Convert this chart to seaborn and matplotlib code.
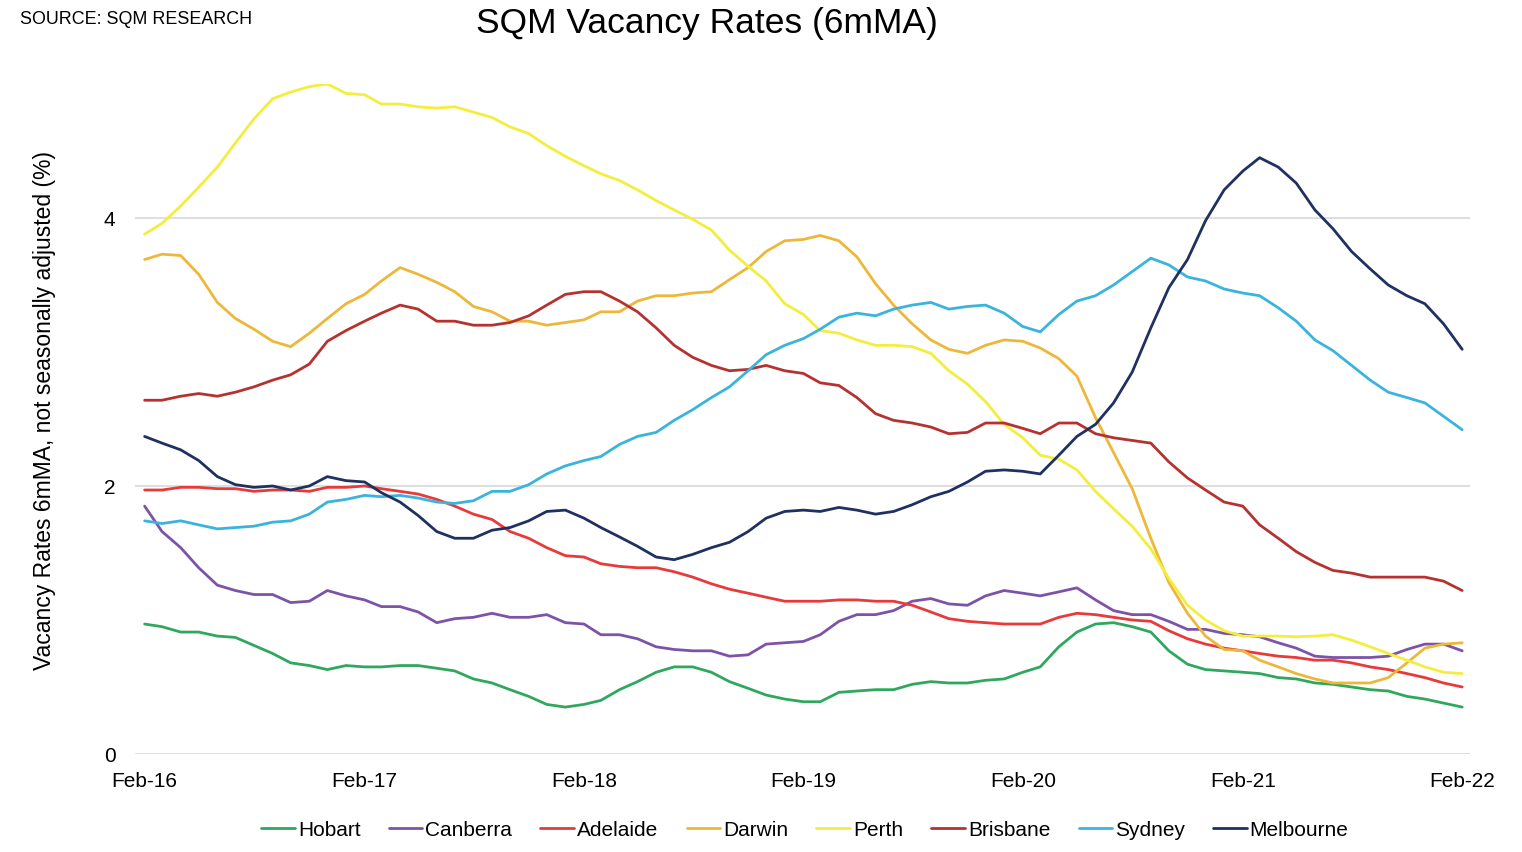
import pandas as pd
import matplotlib
matplotlib.use("Agg")
import matplotlib.pyplot as plt
import matplotlib.dates as mdates
import seaborn as sns

sns.set_style("white")
plt.rcParams["font.family"] = ["Liberation Sans", "DejaVu Sans"]
plt.rcParams["text.color"] = "black"
plt.rcParams["xtick.color"] = "black"
plt.rcParams["ytick.color"] = "black"

# ----- data (monthly, Feb-16 .. Feb-22) -----
months = pd.date_range("2016-02-01", periods=73, freq="MS")

hobart = [0.97, 0.95, 0.91, 0.91, 0.88, 0.87, 0.81, 0.75, 0.68, 0.66, 0.63, 0.66,
          0.65, 0.65, 0.66, 0.66, 0.64, 0.62, 0.56, 0.53, 0.48, 0.43, 0.37, 0.35,
          0.37, 0.40, 0.48, 0.54, 0.61, 0.65, 0.65, 0.61, 0.54, 0.49, 0.44, 0.41,
          0.39, 0.39, 0.46, 0.47, 0.48, 0.48, 0.52, 0.54, 0.53, 0.53, 0.55, 0.56,
          0.61, 0.65, 0.80, 0.91, 0.97, 0.98, 0.95, 0.91, 0.77, 0.67, 0.63, 0.62,
          0.61, 0.60, 0.57, 0.56, 0.53, 0.52, 0.50, 0.48, 0.47, 0.43, 0.41, 0.38, 0.35]

canberra = [1.85, 1.66, 1.54, 1.39, 1.26, 1.22, 1.19, 1.19, 1.13, 1.14, 1.22, 1.18,
            1.15, 1.10, 1.10, 1.06, 0.98, 1.01, 1.02, 1.05, 1.02, 1.02, 1.04, 0.98,
            0.97, 0.89, 0.89, 0.86, 0.80, 0.78, 0.77, 0.77, 0.73, 0.74, 0.82, 0.83,
            0.84, 0.89, 0.99, 1.04, 1.04, 1.07, 1.14, 1.16, 1.12, 1.11, 1.18, 1.22,
            1.20, 1.18, 1.21, 1.24, 1.15, 1.07, 1.04, 1.04, 0.99, 0.93, 0.93, 0.90,
            0.89, 0.875, 0.83, 0.79, 0.73, 0.72, 0.72, 0.72, 0.73, 0.78, 0.82, 0.82, 0.77]

adelaide = [1.97, 1.97, 1.99, 1.99, 1.98, 1.98, 1.96, 1.97, 1.97, 1.96, 1.99, 1.99,
            2.00, 1.98, 1.96, 1.94, 1.90, 1.85, 1.79, 1.75, 1.66, 1.61, 1.54, 1.48,
            1.47, 1.42, 1.40, 1.39, 1.39, 1.36, 1.32, 1.27, 1.23, 1.20, 1.17, 1.14,
            1.14, 1.14, 1.15, 1.15, 1.14, 1.14, 1.11, 1.06, 1.01, 0.99, 0.98, 0.97,
            0.97, 0.97, 1.02, 1.05, 1.04, 1.02, 1.00, 0.99, 0.92, 0.86, 0.82, 0.79,
            0.77, 0.75, 0.73, 0.72, 0.70, 0.70, 0.68, 0.65, 0.63, 0.60, 0.57, 0.53, 0.50]

darwin = [3.69, 3.73, 3.72, 3.58, 3.37, 3.25, 3.17, 3.08, 3.04, 3.14, 3.25, 3.36,
          3.43, 3.53, 3.63, 3.58, 3.52, 3.45, 3.34, 3.30, 3.23, 3.23, 3.20, 3.22,
          3.24, 3.30, 3.30, 3.38, 3.42, 3.42, 3.44, 3.45, 3.54, 3.63, 3.75, 3.83,
          3.84, 3.87, 3.83, 3.71, 3.51, 3.35, 3.21, 3.09, 3.02, 2.99, 3.05, 3.09,
          3.08, 3.03, 2.95, 2.82, 2.51, 2.25, 1.98, 1.61, 1.28, 1.05, 0.88, 0.78,
          0.77, 0.70, 0.65, 0.60, 0.56, 0.53, 0.53, 0.53, 0.57, 0.68, 0.79, 0.82, 0.83]

perth = [3.88, 3.96, 4.09, 4.23, 4.38, 4.56, 4.74, 4.89, 4.94, 4.98, 5.00, 4.93,
         4.92, 4.85, 4.85, 4.83, 4.82, 4.83, 4.79, 4.75, 4.68, 4.63, 4.54, 4.46,
         4.39, 4.33, 4.28, 4.21, 4.13, 4.06, 3.99, 3.91, 3.76, 3.64, 3.53, 3.36,
         3.28, 3.16, 3.14, 3.09, 3.05, 3.05, 3.04, 2.99, 2.86, 2.76, 2.63, 2.46,
         2.36, 2.23, 2.20, 2.12, 1.96, 1.83, 1.70, 1.53, 1.31, 1.11, 1.00, 0.92,
         0.88, 0.88, 0.88, 0.875, 0.88, 0.89, 0.85, 0.80, 0.75, 0.70, 0.65, 0.61, 0.60]

brisbane = [2.64, 2.64, 2.67, 2.69, 2.67, 2.70, 2.74, 2.79, 2.83, 2.91, 3.08, 3.16,
            3.23, 3.29, 3.35, 3.32, 3.23, 3.23, 3.20, 3.20, 3.22, 3.27, 3.35, 3.43,
            3.45, 3.45, 3.38, 3.30, 3.18, 3.05, 2.96, 2.90, 2.86, 2.87, 2.90, 2.86,
            2.84, 2.77, 2.75, 2.66, 2.54, 2.49, 2.47, 2.44, 2.39, 2.40, 2.47, 2.47,
            2.43, 2.39, 2.47, 2.47, 2.39, 2.36, 2.34, 2.32, 2.18, 2.06, 1.97, 1.88,
            1.85, 1.71, 1.61, 1.51, 1.43, 1.37, 1.35, 1.32, 1.32, 1.32, 1.32, 1.29, 1.22]

sydney = [1.74, 1.72, 1.74, 1.71, 1.68, 1.69, 1.70, 1.73, 1.74, 1.79, 1.88, 1.90,
          1.93, 1.92, 1.93, 1.91, 1.88, 1.87, 1.89, 1.96, 1.96, 2.01, 2.09, 2.15,
          2.19, 2.22, 2.31, 2.37, 2.40, 2.49, 2.57, 2.66, 2.74, 2.86, 2.98, 3.05,
          3.10, 3.17, 3.26, 3.29, 3.27, 3.32, 3.35, 3.37, 3.32, 3.34, 3.35, 3.29,
          3.19, 3.15, 3.28, 3.38, 3.42, 3.50, 3.60, 3.70, 3.65, 3.56, 3.53, 3.47,
          3.44, 3.42, 3.33, 3.23, 3.09, 3.01, 2.90, 2.79, 2.70, 2.66, 2.62, 2.52, 2.42]

melbourne = [2.37, 2.32, 2.27, 2.19, 2.07, 2.01, 1.99, 2.00, 1.97, 2.00, 2.07, 2.04,
             2.03, 1.95, 1.88, 1.78, 1.66, 1.61, 1.61, 1.67, 1.69, 1.74, 1.81, 1.82,
             1.76, 1.69, 1.62, 1.55, 1.47, 1.45, 1.49, 1.54, 1.58, 1.66, 1.76, 1.81,
             1.82, 1.81, 1.84, 1.82, 1.79, 1.81, 1.86, 1.92, 1.96, 2.03, 2.11, 2.12,
             2.11, 2.09, 2.23, 2.37, 2.46, 2.62, 2.85, 3.18, 3.48, 3.69, 3.98, 4.21,
             4.35, 4.45, 4.38, 4.26, 4.06, 3.92, 3.75, 3.62, 3.50, 3.42, 3.36, 3.21, 3.02]

cities = ["Hobart", "Canberra", "Adelaide", "Darwin", "Perth", "Brisbane", "Sydney", "Melbourne"]
series = [hobart, canberra, adelaide, darwin, perth, brisbane, sydney, melbourne]
colors = ["#2FA85E", "#7D53A8", "#E63B3A", "#EDB83A", "#F3EE3E", "#B53230", "#3AB4DD", "#1F3160"]

df = pd.concat(
    [pd.DataFrame({"month": months, "rate": vals, "city": c}) for c, vals in zip(cities, series)],
    ignore_index=True,
)

# ----- figure -----
fig = plt.figure(figsize=(15.22, 8.53), dpi=100)
ax = fig.add_axes([135 / 1522, 1 - 755 / 853, 1335 / 1522, 670 / 853])

sns.lineplot(data=df, x="month", y="rate", hue="city", hue_order=cities,
             palette=dict(zip(cities, colors)), linewidth=2.0, ax=ax)

ax.set_ylim(0, 5.0)
ax.set_yticks([0, 2, 4])
ax.set_xlim(months[0] - pd.Timedelta(days=16), months[-1] + pd.Timedelta(days=13))
ax.set_xticks(months[::12])
ax.xaxis.set_major_formatter(mdates.DateFormatter("%b-%y"))
ax.grid(axis="y", color="#D9D9D9", linewidth=1.2)
ax.grid(axis="x", visible=False)
ax.set_axisbelow(True)
sns.despine(ax=ax, left=True, bottom=True)
ax.tick_params(axis="x", length=0, pad=12, labelsize=15)
ax.tick_params(axis="y", length=0, pad=14, labelsize=15)
ax.set_xlabel("")
ax.set_ylabel("")

handles, labels = ax.get_legend_handles_labels()
ax.get_legend().remove()
fig.legend(handles, labels, loc="center", bbox_to_anchor=(805 / 1522, 1 - 831 / 853),
           ncol=8, frameon=False, fontsize=15, handlelength=1.6, handletextpad=0.15,
           columnspacing=1.36)

fig.text(45 / 1522, 1 - 411 / 853, "Vacancy Rates 6mMA, not seasonally adjusted (%)",
         rotation=90, ha="center", va="center", fontsize=16.5)
fig.text(707 / 1522, 1 - 24 / 853, "SQM Vacancy Rates (6mMA)",
         ha="center", va="center", fontsize=25.5)
fig.text(20 / 1522, 1 - 20 / 853, "SOURCE: SQM RESEARCH",
         ha="left", va="center", fontsize=12.9)

fig.savefig("out.png", dpi=100)
